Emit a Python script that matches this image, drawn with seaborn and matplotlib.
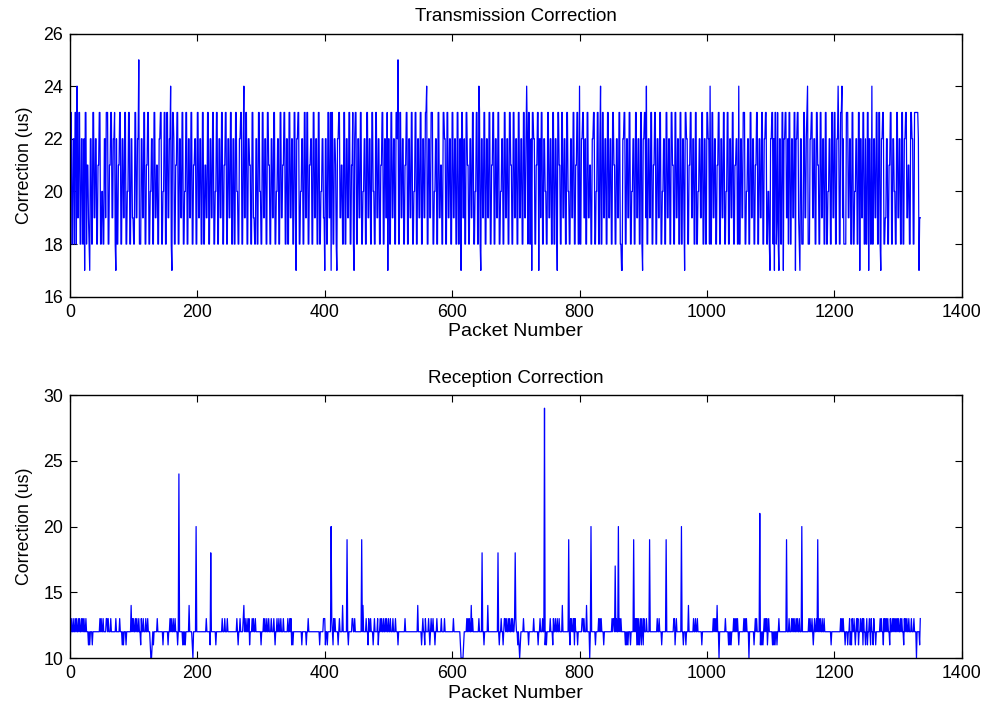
import matplotlib
matplotlib.use("Agg")
import matplotlib.pyplot as plt
import seaborn as sns
import numpy as np
import pandas as pd

# Values coded one character per packet: value = int(char, 36) + 10
# (7=17, 8=18, 9=19, a=20, b=21, c=22, d=23, e=24, f=25, j=29)
tx_code = [
    "9dd88cc8dd 8e99dd88cc 88c7dd8bb9 87cc88dd99 cc88bbdd88",
    "aa88cc9ddd 88bbdd99cc d87c88bbdd 88cc99dd88 aadd88cc99",
    "88dd99ccf8 88cc99dd88 bbdd88aacc 88dd99bb88 ccdd88aadd",
    "88dd99cce8 7ddc88bbdd 88cc99dd88 aadd88cc99 dd88bbcc88",
    "dd99cc88dd 88bb99dd88 cc99dd88aa dd88cc99dd 88bbdd88cc",
    "99dd88cc88 ddaa88ccdd 88ce99dd88 ccbb88dd99 88cc88ddaa",
    "88dd99cc88 ddbb88cc99 dd88aacc88 dd99bbdd88 cc88dd99cc",
    "88dd97ccdd 88aacc88dd 99dd88bbcc 88dd99cc88 dd88aacc99",
    "7cc88dd99d 7dd88ccb87 ccdd99bb88 dd88cc99dd 88bbd87cdd",
    "88cc99dd88 aacc88dd99 cc88ddaa88 dd99cc88bb dd88cc99d7",
    "cc88dd99cc 88ddcf88dd 99cc88bbdd 88cc99dd88 aadd88cc99",
    "dd88cc99dd e88cc99ddd 88aacc88dd 99bb88ddcc 88dd99cc88",
    "dd99cc88dd 88cc7dd99c 88ddbb88cc 99dd88aadd 88ed87cc99",
    "dd88cc99dd 88bbdd88cc 99dd88aacc 88dd99cc88 ddbb88dd99",
    "cc88dd99cc 88dd99cec8 dd88c7ddcc 88bbdd7cc9 dd88ccaa88",
    "dd99cc88dd 88cc97ddbb 88dd99cc88 ddaa88cc99 dd88bbdd88",
    "e88ccdd99c 88dd99bb88 ccdd88aadd 88ce88dd99 cc88dd99cc",
    "88ddbb88cc 99dd8877cc dd88cc99dd 88aacc88dd 99cc88dd87",
    "ccdd9e88cc 99dd88bbdd 88cc99dd88 aacc88dd99 cc88ddbb88",
    "dd99cc88dd 88cc97ddcc 88bbdd99cc 88dd88aacc 99dd88cc88",
    "ddcc8e88dd 99cc88bbdd 88cc99dd88 aadd88cc99 dd88bbcc88",
    "e88cc99ddd 88aacc88dd 99cc88bbdd 88cc99dd88 ccdd88aa87",
    "ccdd8c7dd8 9d87cc88dd 7ccdd99c8d d88cc99dd7 ccdd987cc8",
    "88dd99cde8 88ccdd99cc 88ddbb88dd 99cc88dd88 aacc88dd99",
    "dd88ccec88 dde9c8888d dd99cc88dd 88aacc88dd 7cc99dd88c",
    "88dd7cc88e 88cc99dd88 dd87ccdd88 99cc88bbdd 88ccaa88dd",
    "99cc88dd88 ccdd99bb88 ddcc88dddd ddc799",
]

rx_code = [
    "1232232232 3223232232 3232232221 2122212222 2222222323",
    "2232222332 3222322222 2232222232 2212122212 2222224232",
    "3223232232 2132232223 2232221001 2122222322 2222221222",
    "2222122323 2232232221 2e22222121 2122222422 22102222a2",
    "2222222222 2222322222 1822222221 2222222223 2223222322",
    "2222222222 2232122322 2234232232 2312223232 2322222222",
    "1222323223 2232223222 3212232232 2322232222 2232232312",
    "1222222222 2222122222 2122322222 2222222222 2212222233",
    "3122122222 a321323222 2123222242 2222292122 2223322322",
    "2222222292 4222232213 2232221232 2223122323 2232232322",
    "3223222322 2322212222 2222223222 2222222222 2222224222",
    "2212322132 2223212322 3221223222 2223222232 2222222222",
    "2232222222 2221000012 2223232322 4232222222 2232222822",
    "1222224222 2222222222 2282122322 1233232232 3223232238",
    "3221210122 2232222222 1222222232 2222212232 22322j1212",
    "2222322213 2232232232 2224222222 2229213232 2313222122",
    "2222332322 24222202a2 2222212222 3232322212 2222222222",
    "2323327232 2a23232222 2212121222 1222292323 1313123132",
    "1322232222 9222222222 2232232221 2222229222 2222222233",
    "1232222222 a221222122 2422222223 2232232222 2212222222",
    "2222222222 3232324220 2222222223 2222121212 2232323232",
    "1222222232 3232220222 2222123232 222b121212 3232312322",
    "2221212122 1223222222 2222292223 2223232322 323223222a",
    "2222222222 3232232123 2232923232 2322322222 2222212222",
    "2222222222 3232322122 2122312132 2321232312 2322313221",
    "2312232132 2132212222 2232322132 3232322132 2323232323",
    "2322323221 3232322322 2322232220 222213",
]


def decode(lines):
    groups = " ".join(lines).split()
    bad = [(i, g) for i, g in enumerate(groups[:-1]) if len(g) != 10]
    if bad:
        raise ValueError("bad groups: %r" % bad)
    return [int(ch, 36) + 10 for ch in "".join(groups)]


tx_values = decode(tx_code)
rx_values = decode(rx_code)

tx_df = pd.DataFrame({"packet": np.arange(len(tx_values)), "correction": tx_values})
rx_df = pd.DataFrame({"packet": np.arange(len(rx_values)), "correction": rx_values})

plt.rcParams["font.family"] = ["Liberation Sans", "DejaVu Sans"]

fig = plt.figure(figsize=(9.9, 7.1), dpi=100)
ax1 = fig.add_axes([0.0707, 0.5821, 0.9007, 0.3707])
ax2 = fig.add_axes([0.0707, 0.0732, 0.9007, 0.3704])

panels = [
    (ax1, tx_df, "Transmission Correction", (16, 26), np.arange(16, 27, 2)),
    (ax2, rx_df, "Reception Correction", (10, 30), np.arange(10, 31, 5)),
]

for ax, df, title, ylim, yticks in panels:
    sns.lineplot(data=df, x="packet", y="correction", ax=ax, color="#0000ff",
                 linewidth=0.9, estimator=None, errorbar=None)
    ax.set_xlim(0, 1400)
    ax.set_ylim(*ylim)
    ax.set_xticks(np.arange(0, 1401, 200))
    ax.set_yticks(yticks)
    ax.set_title(title, fontsize=13.5, pad=9)
    ax.set_xlabel("Packet Number", fontsize=14, labelpad=2)
    ax.set_ylabel("Correction (us)", fontsize=12.8, labelpad=7)
    ax.tick_params(direction="in", top=True, right=True, length=5, width=0.8,
                   labelsize=12.8, pad=5)
    for sp in ax.spines.values():
        sp.set_linewidth(1.0)
        sp.set_color("black")

fig.savefig("out.png", dpi=100)
